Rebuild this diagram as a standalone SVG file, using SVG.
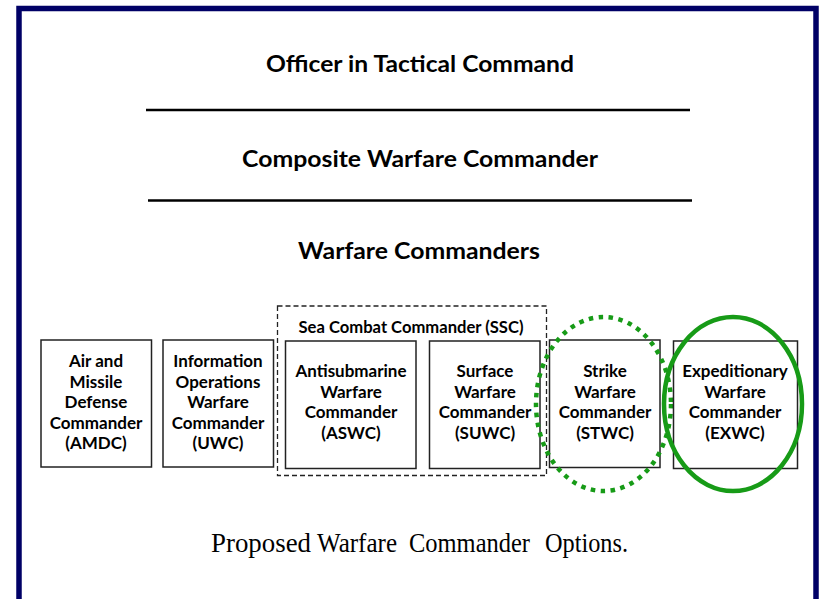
<svg xmlns="http://www.w3.org/2000/svg" width="819" height="599" viewBox="0 0 819 599">
<style>
.h{font-family:Lato,"Open Sans","DejaVu Sans",sans-serif;font-weight:bold;font-size:23px;fill:#000;text-anchor:middle}
.t{font-family:Lato,"Open Sans","DejaVu Sans",sans-serif;font-weight:bold;font-size:17px;fill:#000;text-anchor:middle}
.box{fill:#fff;stroke:#222;stroke-width:1.5}
.div{stroke:#000;stroke-width:2.5}
.cap{font-family:"Liberation Serif","Times New Roman",serif;font-size:28px;fill:#000}
</style>
<rect x="0" y="0" width="819" height="599" fill="#fff"/>
<rect id="frame" x="19" y="8.5" width="797" height="640" fill="#fff" stroke="#000066" stroke-width="5.5"/>

<g id="oitc"><text class="h" x="420" y="71.5" textLength="308" lengthAdjust="spacingAndGlyphs">Officer in Tactical Command</text></g>
<g id="dividers">
<line class="div" x1="146" y1="110" x2="690" y2="110"/>
<line class="div" x1="148" y1="200.5" x2="692" y2="200.5"/>
</g>
<g id="cwc"><text class="h" x="420" y="166.5" textLength="356" lengthAdjust="spacingAndGlyphs">Composite Warfare Commander</text></g>
<g id="wc"><text class="h" x="419" y="258.5" textLength="242" lengthAdjust="spacingAndGlyphs">Warfare Commanders</text></g>

<g id="ssc">
<rect x="277.5" y="306" width="269" height="169.5" fill="none" stroke="#222" stroke-width="1.3" stroke-dasharray="5 3"/>
<text class="t" x="411" y="333" font-size="15.5" textLength="225" lengthAdjust="spacingAndGlyphs">Sea Combat Commander (SSC)</text>
</g>

<g id="amdc">
<rect class="box" x="41" y="340" width="110.5" height="127"/>
<text class="t" x="96" y="367">Air and</text>
<text class="t" x="96" y="387.5">Missile</text>
<text class="t" x="96" y="408">Defense</text>
<text class="t" x="96" y="428.5">Commander</text>
<text class="t" x="96" y="449">(AMDC)</text>
</g>
<g id="uwc">
<rect class="box" x="163" y="340" width="110.5" height="127"/>
<text class="t" x="218" y="367">Information</text>
<text class="t" x="218" y="387.5">Operations</text>
<text class="t" x="218" y="408">Warfare</text>
<text class="t" x="218" y="428.5">Commander</text>
<text class="t" x="218" y="449">(UWC)</text>
</g>
<g id="aswc">
<rect class="box" x="285.5" y="341" width="130.5" height="127.5"/>
<text class="t" x="351" y="377">Antisubmarine</text>
<text class="t" x="351" y="397.5">Warfare</text>
<text class="t" x="351" y="418">Commander</text>
<text class="t" x="351" y="438.5">(ASWC)</text>
</g>
<g id="suwc">
<rect class="box" x="429.5" y="341" width="110.5" height="127.5"/>
<text class="t" x="485" y="377">Surface</text>
<text class="t" x="485" y="397.5">Warfare</text>
<text class="t" x="485" y="418">Commander</text>
<text class="t" x="485" y="438.5">(SUWC)</text>
</g>
<g id="stwc">
<rect class="box" x="549.5" y="340" width="110.5" height="127.5"/>
<text class="t" x="605" y="377">Strike</text>
<text class="t" x="605" y="397.5">Warfare</text>
<text class="t" x="605" y="418">Commander</text>
<text class="t" x="605" y="438.5">(STWC)</text>
<ellipse cx="603.5" cy="404" rx="67.5" ry="87" fill="none" stroke="#179b17" stroke-width="4.5" stroke-dasharray="4.5 5.5"/>
</g>
<g id="exwc">
<rect class="box" x="673.5" y="341" width="124" height="127.5"/>
<text class="t" x="735" y="377">Expeditionary</text>
<text class="t" x="735" y="397.5">Warfare</text>
<text class="t" x="735" y="418">Commander</text>
<text class="t" x="735" y="438.5">(EXWC)</text>
<ellipse cx="733" cy="404" rx="69" ry="87" fill="none" stroke="#179b17" stroke-width="4.5"/>
</g>

<g id="caption">
<text class="cap" x="211" y="552" textLength="100" lengthAdjust="spacingAndGlyphs">Proposed</text>
<text class="cap" x="317" y="552" textLength="80" lengthAdjust="spacingAndGlyphs">Warfare</text>
<text class="cap" x="409" y="552" textLength="121" lengthAdjust="spacingAndGlyphs">Commander</text>
<text class="cap" x="545" y="552" textLength="83" lengthAdjust="spacingAndGlyphs">Options.</text>
</g>
</svg>
